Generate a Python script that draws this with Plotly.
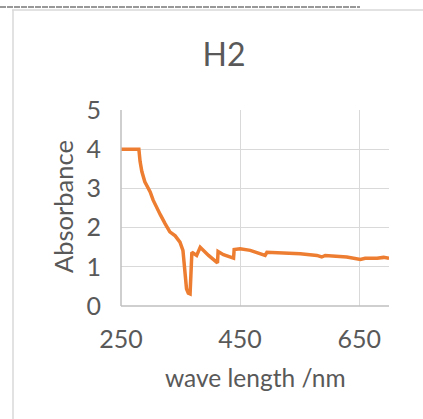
import plotly.graph_objects as go

wavelength = [250, 260, 270, 280, 282, 285, 290, 299, 304, 310, 316, 324, 332, 341, 349, 354, 357, 360, 363, 366,
              369, 377, 383, 397, 412, 413, 422, 439, 440, 450, 467, 492, 495, 517, 534, 551, 579, 587, 593, 629,
              652, 660, 680, 691, 700]
absorbance = [4.0, 4.0, 4.0, 4.0, 3.69, 3.43, 3.17, 2.91, 2.70, 2.49, 2.33, 2.10, 1.89, 1.79, 1.63, 1.42, 0.95, 0.44, 0.33, 0.31,
              1.37, 1.29, 1.50, 1.29, 1.10, 1.39, 1.31, 1.22, 1.44, 1.46, 1.42, 1.29, 1.37, 1.36, 1.35, 1.33, 1.29, 1.25, 1.29, 1.25,
              1.19, 1.22, 1.22, 1.24, 1.22]
x_ticks = [250, 450, 650]
y_ticks = [0, 1, 2, 3, 4, 5]

W, H = 423, 419
L, R, T, B = 121, 389, 110, 306

def px(x):
    return (x - L) / (R - L)

def py(y):
    return (B - y) / (B - T)

font = "Lato, 'Open Sans', sans-serif"
grey = "#595959"

fig = go.Figure()
fig.add_trace(go.Scatter(x=wavelength, y=absorbance, mode="lines",
                         line=dict(color="#ED7D31", width=3.5), showlegend=False,
                         hoverinfo="skip"))

fig.update_layout(
    width=W, height=H,
    margin=dict(l=L, r=W - R, t=T, b=H - B),
    paper_bgcolor="white", plot_bgcolor="white",
    font=dict(family=font, color=grey),
    title=dict(text="H2", x=(224 - L) / (R - L), xref="paper", xanchor="center",
               y=1 - 55 / H, yanchor="middle", font=dict(size=32, color=grey, family=font)),
    xaxis=dict(range=[250, 700], tickvals=x_ticks, ticks="", showgrid=True,
               gridcolor="#D9D9D9", gridwidth=1.3, zeroline=False,
               showline=False, tickfont=dict(size=25, color=grey), ticklabelstandoff=16),
    yaxis=dict(range=[0, 5], tickvals=y_ticks, ticks="", showgrid=True,
               gridcolor="#D9D9D9", gridwidth=1.3, zeroline=False,
               showline=False, tickfont=dict(size=25, color=grey), ticklabelstandoff=19),
    annotations=[
        dict(text="wave length /nm", xref="paper", yref="paper", x=px(255), y=py(377),
             xanchor="center", yanchor="middle", showarrow=False,
             font=dict(size=24.5, color=grey, family=font)),
        dict(text="Absorbance", xref="paper", yref="paper", x=px(63), y=py(207),
             xanchor="center", yanchor="middle", showarrow=False, textangle=-90,
             font=dict(size=25.5, color=grey, family=font)),
    ],
    shapes=[
        dict(type="line", xref="paper", yref="paper", x0=0, x1=1, y0=0, y1=0,
             line=dict(color="#BFBFBF", width=1.5)),
        dict(type="line", xref="paper", yref="paper", x0=0, x1=0, y0=0, y1=1,
             line=dict(color="#BFBFBF", width=1.5)),
        dict(type="line", xref="paper", yref="paper", x0=px(12), x1=px(423), y0=py(10), y1=py(10),
             line=dict(color="#D9D9D9", width=1.5)),
        dict(type="line", xref="paper", yref="paper", x0=px(13), x1=px(13), y0=py(10), y1=py(419),
             line=dict(color="#D9D9D9", width=1.5)),
        dict(type="line", xref="paper", yref="paper", x0=px(0), x1=px(360), y0=py(7), y1=py(7),
             line=dict(color="#333333", width=1, dash="6px,1px")),
    ],
)

fig.write_html("out.html")
